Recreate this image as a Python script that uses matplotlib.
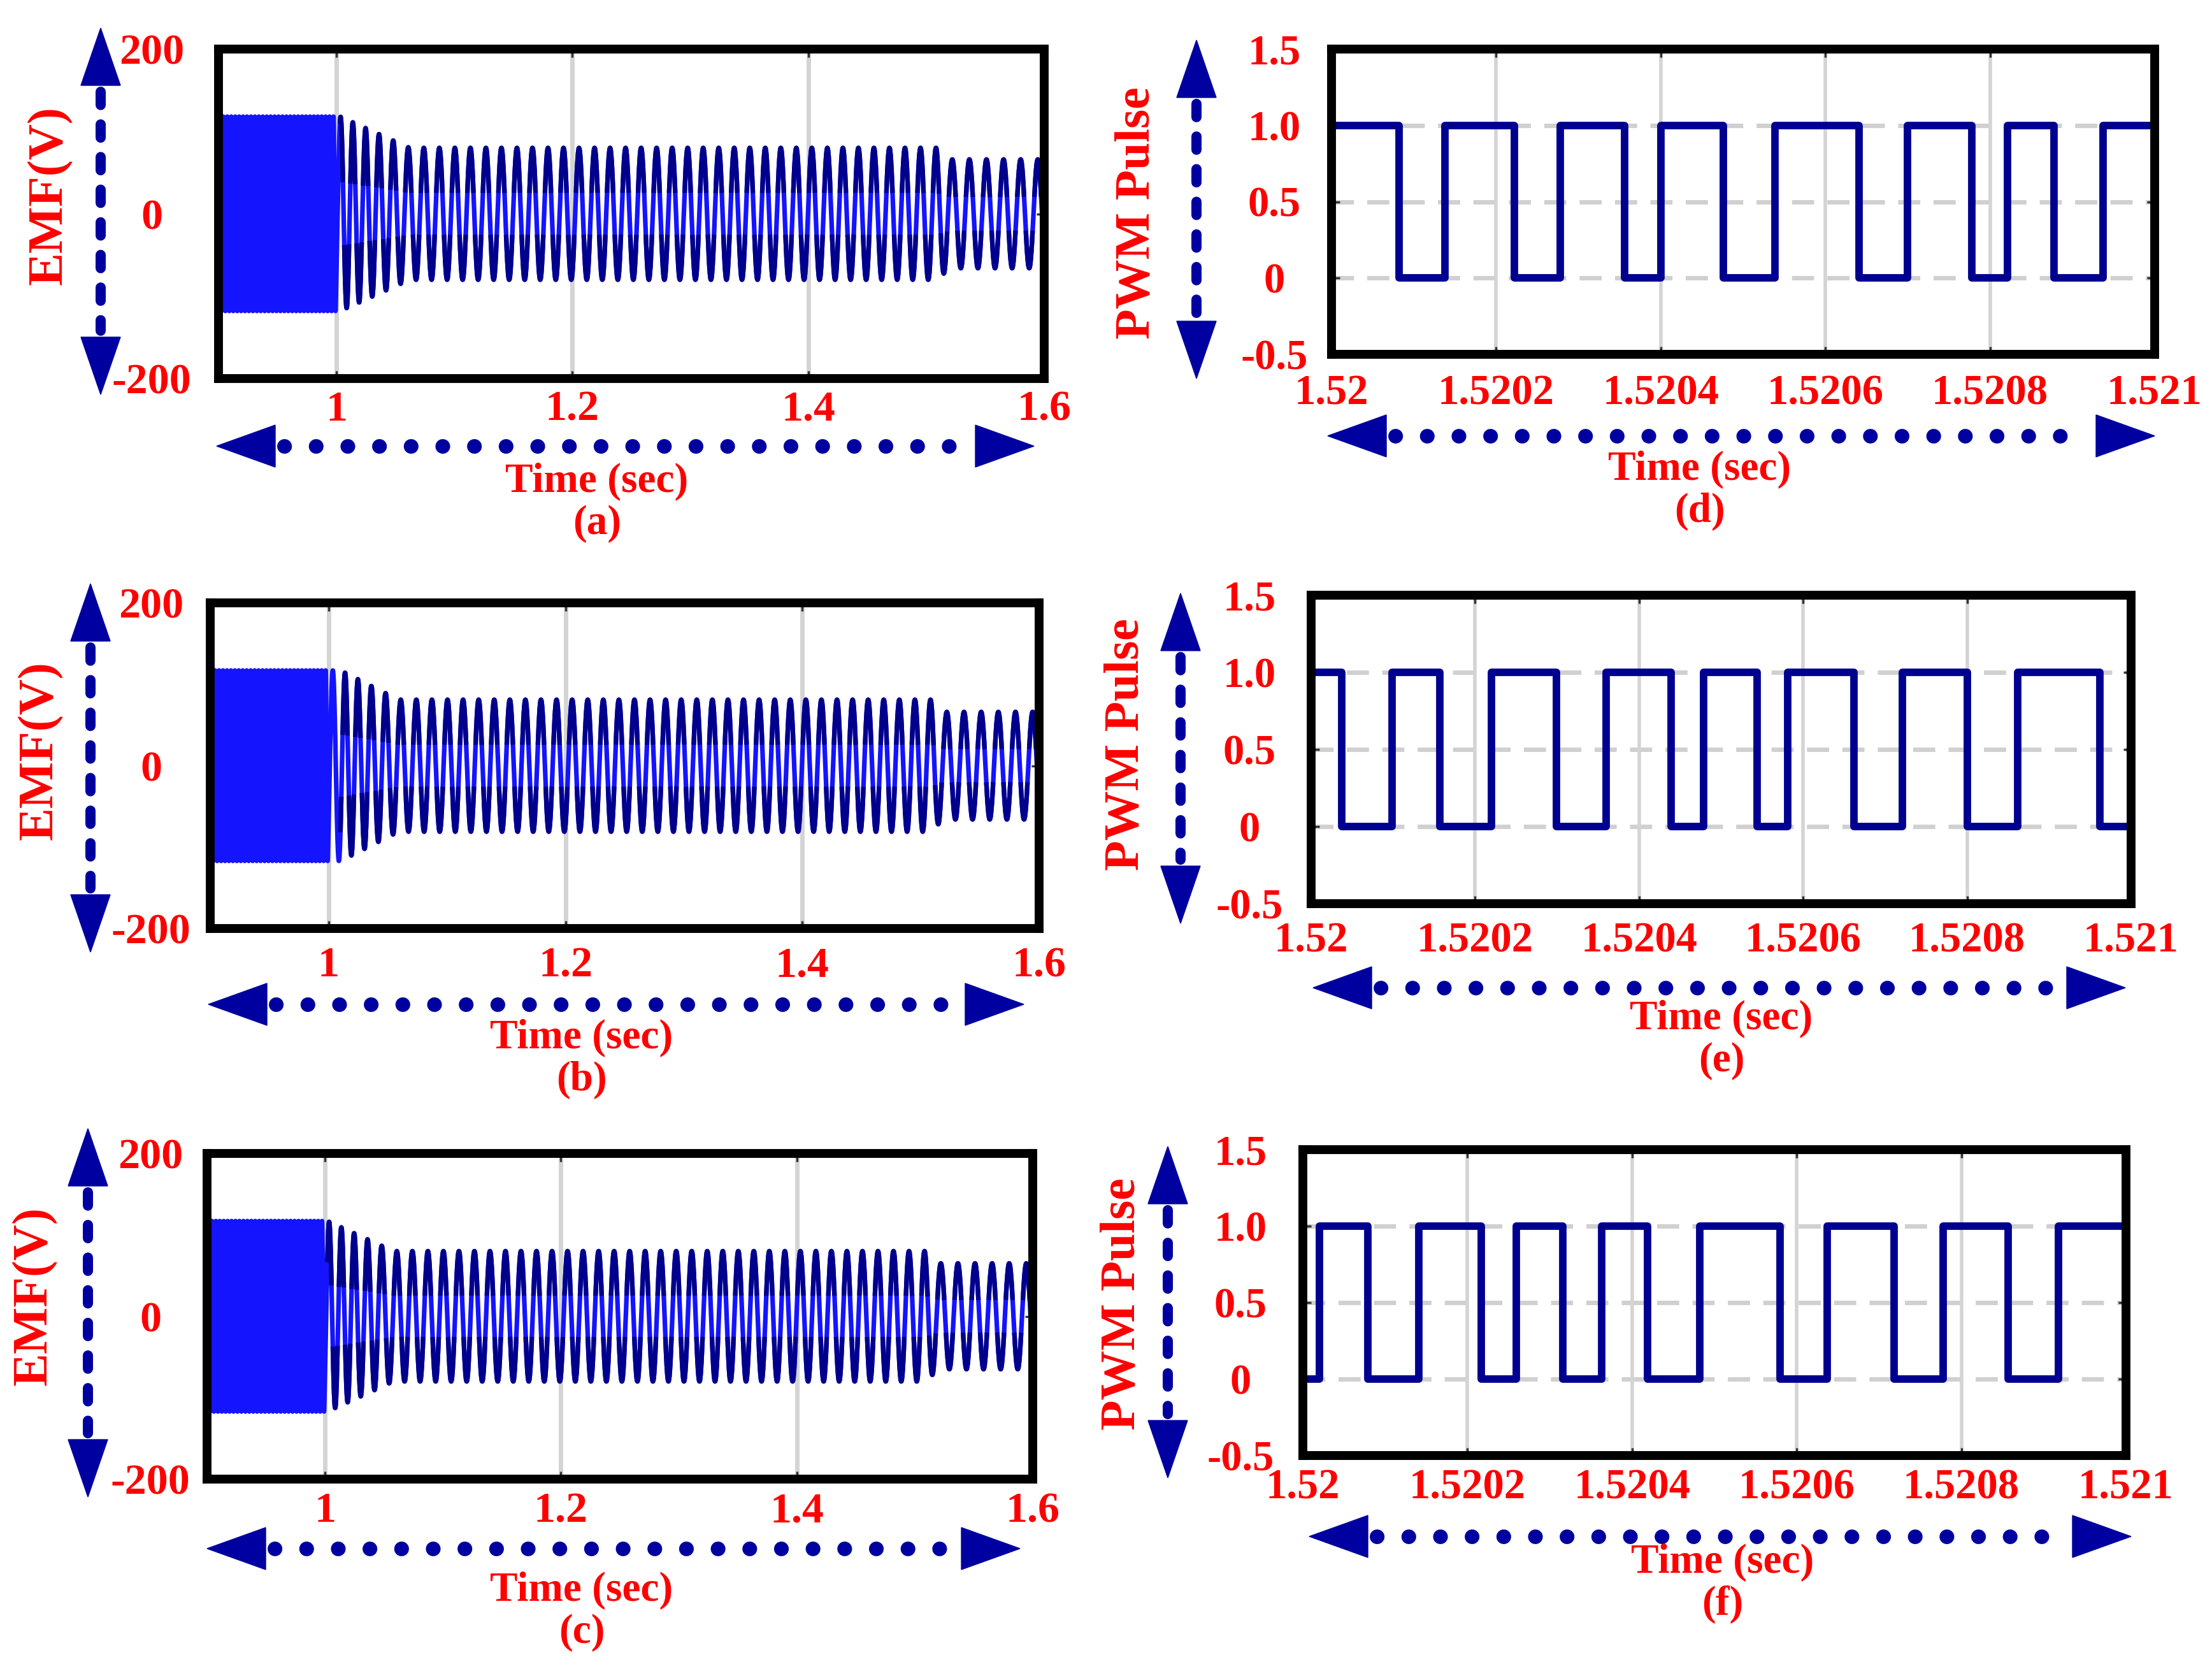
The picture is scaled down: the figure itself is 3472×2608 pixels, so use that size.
import matplotlib
matplotlib.use('Agg')
import matplotlib.pyplot as plt
import matplotlib.patches as mpatches
from matplotlib.lines import Line2D
import numpy as np

plt.rcParams['font.family'] = ['Liberation Serif', 'DejaVu Serif']
plt.rcParams['font.weight'] = 'bold'

W, H = 3473, 2608
RED = '#FF0000'
NAVY = '#0000A0'

# ---- data ----
# EMF panels (a)-(c): peak envelope of the back-EMF (V) at breakpoint times (s)
emf_t_a = [0.90, 1.003, 1.062, 1.509, 1.520, 1.60]
emf_amp_a = [118, 118, 80, 80, 66, 66]
emf_t_b = [0.90, 1.010, 1.059, 1.510, 1.518, 1.60]
emf_amp_b = [117, 117, 81, 81, 66, 66]
emf_t_c = [0.90, 1.002, 1.058, 1.509, 1.520, 1.60]
emf_amp_c = [117, 117, 80, 80, 65, 65]
# apparent oscillation rate (cycles/s) from the peak spacing
emf_freq_t = [0.90, 0.999, 1.000, 1.060, 1.510, 1.520, 1.60]
emf_freq = [300, 300, 100, 76, 76, 69, 69]

emf_yticks = [-200, 0, 200]
emf_yticklabels = ['-200', '0', '200']
emf_xticks = [1.0, 1.2, 1.4, 1.6]
emf_xticklabels = ['1', '1.2', '1.4', '1.6']

# PWM panels (d)-(f): switching instants (s) and starting level
pwm_edges_d = [1.520082, 1.5201375, 1.520222, 1.520278, 1.520356, 1.520400,
               1.520476, 1.520539, 1.520641, 1.520700, 1.520778, 1.520821,
               1.520878, 1.520937]
pwm_start_d = 1
pwm_edges_e = [1.520037, 1.520099, 1.520157, 1.520220, 1.520299, 1.520360,
               1.520439, 1.520479, 1.520544, 1.520581, 1.520662, 1.520721,
               1.520800, 1.520862, 1.520962]
pwm_start_e = 1
pwm_edges_f = [1.520020, 1.520079, 1.520141, 1.520217, 1.520259, 1.520316,
               1.520363, 1.520419, 1.520482, 1.520580, 1.520637, 1.520718,
               1.520778, 1.520857, 1.520918]
pwm_start_f = 0

pwm_yticks = [-0.5, 0, 0.5, 1.0, 1.5]
pwm_yticklabels = ['-0.5', '0', '0.5', '1.0', '1.5']
pwm_xticks = [1.52, 1.5202, 1.5204, 1.5206, 1.5208, 1.521]
pwm_xticklabels = ['1.52', '1.5202', '1.5204', '1.5206', '1.5208', '1.521']

# ---- layout (figure pixels, origin top-left) ----
layout = {
    'a': dict(box=(343, 77, 1639, 594), ylab=(78, 307), varrow=(158, 44, 619),
              harrow=(700, 340, 1623), xlab=(937, 756), tag=(937, 822), xpad=49, ypad=105),
    'b': dict(box=(330, 946, 1631, 1457), ylab=(63, 1178), varrow=(142, 916, 1494),
              harrow=(1576, 327, 1607), xlab=(913, 1629), tag=(913, 1695), xpad=59, ypad=93),
    'c': dict(box=(325, 1810, 1621, 2321), ylab=(54, 2034), varrow=(138, 1771, 2349),
              harrow=(2430, 325, 1601), xlab=(913, 2496), tag=(913, 2562), xpad=51, ypad=89),
    'd': dict(box=(2090, 77, 3382, 556), ylab=(1785, 334), varrow=(1878, 63, 594),
              harrow=(684, 2084, 3382), xlab=(2668, 737), tag=(2668, 803), xpad=62, ypad=90),
    'e': dict(box=(2058, 934, 3345, 1418), ylab=(1768, 1168), varrow=(1853, 931, 1449),
              harrow=(1550, 2061, 3336), xlab=(2702, 1599), tag=(2702, 1665), xpad=59, ypad=97),
    'f': dict(box=(2045, 1804, 3337, 2284), ylab=(1762, 2046), varrow=(1833, 1799, 2319),
              harrow=(2411, 2055, 3345), xlab=(2704, 2452), tag=(2704, 2518), xpad=51, ypad=98),
}

PX = 72 / 100  # points per pixel at dpi 100

fig = plt.figure(figsize=(W / 100, H / 100), dpi=100)


def fpt(x, y):
    return x / W, 1 - y / H


def double_arrow(p0, p1, dashes, lw_px, head_len=92, head_w=64):
    p0 = np.array(p0, float)
    p1 = np.array(p1, float)
    u = (p1 - p0) / np.linalg.norm(p1 - p0)
    n = np.array([-u[1], u[0]])
    b0 = p0 + u * head_len
    b1 = p1 - u * head_len
    for tip, base in ((p0, b0), (p1, b1)):
        pts = [tip, base + n * head_w / 2, base - n * head_w / 2]
        tri = mpatches.Polygon([fpt(*q) for q in pts], closed=True, color=NAVY,
                               transform=fig.transFigure)
        fig.add_artist(tri)
    s0 = b0 + u * lw_px * 0.6
    s1 = b1 - u * lw_px * 0.6
    (x0, y0), (x1, y1) = fpt(*s0), fpt(*s1)
    line = Line2D([x0, x1], [y0, y1], transform=fig.transFigure, color=NAVY,
                  lw=lw_px * PX, linestyle=(0, dashes), dash_capstyle='round')
    fig.add_artist(line)


def make_axes(key):
    L = layout[key]
    l, t, r, b = L['box']
    ax = fig.add_axes([l / W, 1 - b / H, (r - l) / W, (b - t) / H])
    for sp in ax.spines.values():
        sp.set_linewidth(10)
        sp.set_color('black')
        sp.set_zorder(5)
    ax.set_axisbelow(True)
    ax.tick_params(direction='in', length=9, width=2.5, color='#333333',
                   top=True, right=True, labelcolor=RED)
    ax.tick_params(axis='x', pad=L['xpad'] * PX)
    ax.tick_params(axis='y', pad=L['ypad'] * PX)

    # arrows and labels around the box
    double_arrow((L['varrow'][0], L['varrow'][1]), (L['varrow'][0], L['varrow'][2]),
                 (1.3, 1.9), 16, head_len=90, head_w=62)
    yh, xa, xb = L['harrow']
    double_arrow((xa, yh), (xb, yh), (0.01, 2.15), 23, head_len=92, head_w=66)
    fig.text(*fpt(*L['xlab']), 'Time (sec)', ha='center', va='center',
             color=RED, fontsize=47, fontweight='bold')
    fig.text(*fpt(*L['tag']), '(%s)' % key, ha='center', va='center',
             color=RED, fontsize=47, fontweight='bold')
    return ax


def finish_ticks(ax, xt, xtl, yt, ytl, size):
    ax.set_xticks(xt)
    ax.set_xticklabels(xtl, fontsize=size, fontweight='bold', va='center')
    ax.set_yticks(yt)
    ax.set_yticklabels(ytl, fontsize=size, fontweight='bold', ha='center')


# ---- EMF panels ----
emf_sets = {'a': (emf_t_a, emf_amp_a), 'b': (emf_t_b, emf_amp_b), 'c': (emf_t_c, emf_amp_c)}
for key, (bt, bamp) in emf_sets.items():
    ax = make_axes(key)
    t = np.linspace(0.9, 1.6, 80000)
    amp = np.interp(t, bt, bamp)
    freq = np.interp(t, emf_freq_t, emf_freq)
    s = np.sin(2 * np.pi * np.cumsum(freq) * (t[1] - t[0]))
    emf = amp * s
    ax.plot(t, emf, color='#1414FF', lw=5.2)
    # darker crests, as the slow part of the trace renders
    crest = np.where((np.abs(s) > 0.35) & (t > bt[1]), emf, np.nan)
    ax.plot(t, crest, color='#00008C', lw=5.2)
    ax.set_xlim(0.9, 1.6)
    ax.set_ylim(-200, 200)
    ax.grid(axis='x', color='#D4D4D4', lw=5)
    finish_ticks(ax, emf_xticks, emf_xticklabels, emf_yticks, emf_yticklabels, 49)
    fig.text(*fpt(*layout[key]['ylab']), 'EMF(V)', rotation=90, ha='center',
             va='center', color=RED, fontsize=56, fontweight='bold')

# ---- PWM panels ----
pwm_sets = {'d': (pwm_edges_d, pwm_start_d), 'e': (pwm_edges_e, pwm_start_e),
            'f': (pwm_edges_f, pwm_start_f)}
for key, (edges, start) in pwm_sets.items():
    ax = make_axes(key)
    times = [1.52] + edges + [1.521]
    levels = [(start + i) % 2 for i in range(len(edges) + 1)]
    levels.append(levels[-1])
    ax.step(times, levels, where='post', color='#000090', lw=8.5, solid_joinstyle='round')
    ax.set_xlim(1.52, 1.521)
    ax.set_ylim(-0.5, 1.5)
    ax.grid(axis='x', color='#D4D4D4', lw=4)
    for lev in (0, 0.5, 1.0):
        ax.axhline(lev, color='#D0D0D0', lw=5, dashes=(5, 3), zorder=0.5)
    finish_ticks(ax, pwm_xticks, pwm_xticklabels, pwm_yticks, pwm_yticklabels, 48)
    fig.text(*fpt(*layout[key]['ylab']), 'PWM Pulse', rotation=90, ha='center',
             va='center', color=RED, fontsize=56, fontweight='bold')

fig.savefig('out.png', dpi=100, facecolor='white')
